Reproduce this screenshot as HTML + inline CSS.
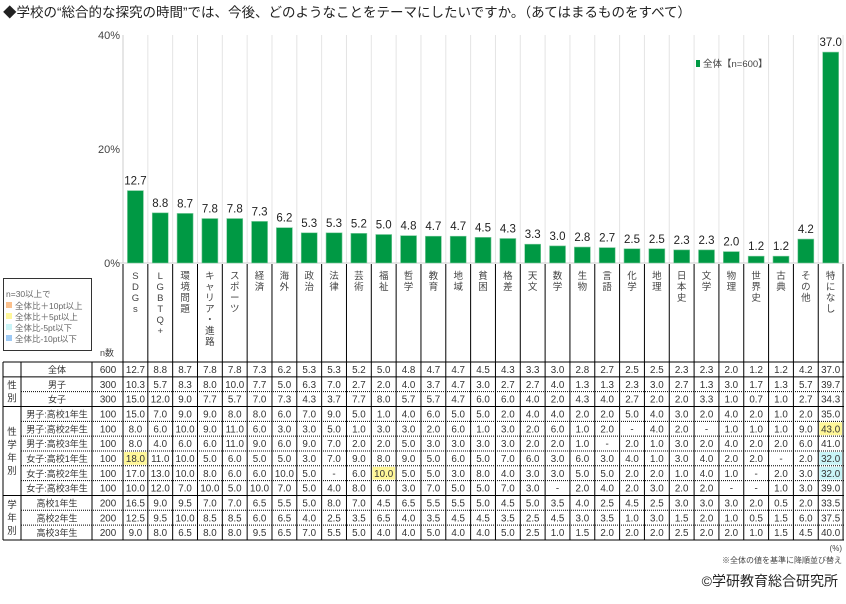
<!DOCTYPE html>
<html><head><meta charset="utf-8"><style>
body{margin:0;background:#fff;width:846px;height:599px;overflow:hidden;font-family:"Liberation Sans","Noto Sans CJK JP",sans-serif;}
svg text{font-family:"Liberation Sans","Noto Sans CJK JP",sans-serif;}
</style></head><body>
<svg id="s" width="846" height="599" xmlns="http://www.w3.org/2000/svg"></svg>
<script>
const s=document.getElementById('s');
let h='';
const cats=["SDGs","LGBTQ+","環境問題","キャリア・進路","スポーツ","経済","海外","政治","法律","芸術","福祉","哲学","教育","地域","貧困","格差","天文","数学","生物","言語","化学","地理","日本史","文学","物理","世界史","古典","その他","特になし"];
const rows=[
["全体","600","12.7 8.8 8.7 7.8 7.8 7.3 6.2 5.3 5.3 5.2 5.0 4.8 4.7 4.7 4.5 4.3 3.3 3.0 2.8 2.7 2.5 2.5 2.3 2.3 2.0 1.2 1.2 4.2 37.0"],
["男子","300","10.3 5.7 8.3 8.0 10.0 7.7 5.0 6.3 7.0 2.7 2.0 4.0 3.7 4.7 3.0 2.7 2.7 4.0 1.3 1.3 2.3 3.0 2.7 1.3 3.0 1.7 1.3 5.7 39.7"],
["女子","300","15.0 12.0 9.0 7.7 5.7 7.0 7.3 4.3 3.7 7.7 8.0 5.7 5.7 4.7 6.0 6.0 4.0 2.0 4.3 4.0 2.7 2.0 2.0 3.3 1.0 0.7 1.0 2.7 34.3"],
["男子:高校1年生","100","15.0 7.0 9.0 9.0 8.0 8.0 6.0 7.0 9.0 5.0 1.0 4.0 6.0 5.0 5.0 2.0 4.0 4.0 2.0 2.0 5.0 4.0 3.0 2.0 4.0 2.0 1.0 2.0 35.0"],
["男子:高校2年生","100","8.0 6.0 10.0 9.0 11.0 6.0 3.0 3.0 5.0 1.0 3.0 3.0 2.0 6.0 1.0 3.0 2.0 6.0 1.0 2.0 - 4.0 2.0 - 1.0 1.0 1.0 9.0 43.0"],
["男子:高校3年生","100","8.0 4.0 6.0 6.0 11.0 9.0 6.0 9.0 7.0 2.0 2.0 5.0 3.0 3.0 3.0 3.0 2.0 2.0 1.0 - 2.0 1.0 3.0 2.0 4.0 2.0 2.0 6.0 41.0"],
["女子:高校1年生","100","18.0 11.0 10.0 5.0 6.0 5.0 5.0 3.0 7.0 9.0 8.0 9.0 5.0 6.0 5.0 7.0 6.0 3.0 6.0 3.0 4.0 1.0 3.0 4.0 2.0 2.0 - 2.0 32.0"],
["女子:高校2年生","100","17.0 13.0 10.0 8.0 6.0 6.0 10.0 5.0 - 6.0 10.0 5.0 5.0 3.0 8.0 4.0 3.0 3.0 5.0 5.0 2.0 2.0 1.0 4.0 1.0 - 2.0 3.0 32.0"],
["女子:高校3年生","100","10.0 12.0 7.0 10.0 5.0 10.0 7.0 5.0 4.0 8.0 6.0 3.0 7.0 5.0 5.0 7.0 3.0 - 2.0 4.0 2.0 3.0 2.0 2.0 - - 1.0 3.0 39.0"],
["高校1年生","200","16.5 9.0 9.5 7.0 7.0 6.5 5.5 5.0 8.0 7.0 4.5 6.5 5.5 5.5 5.0 4.5 5.0 3.5 4.0 2.5 4.5 2.5 3.0 3.0 3.0 2.0 0.5 2.0 33.5"],
["高校2年生","200","12.5 9.5 10.0 8.5 8.5 6.0 6.5 4.0 2.5 3.5 6.5 4.0 3.5 4.5 4.5 3.5 2.5 4.5 3.0 3.5 1.0 3.0 1.5 2.0 1.0 0.5 1.5 6.0 37.5"],
["高校3年生","200","9.0 8.0 6.5 8.0 8.0 9.5 6.5 7.0 5.5 5.0 4.0 4.0 5.0 4.0 4.0 5.0 2.5 1.0 1.5 2.0 2.0 2.0 2.5 2.0 2.0 1.0 1.5 4.5 40.0"]];
const X0=123,CW=24.83,Y0=263,K=5.7,RT=362,RH=14.83;
const cx=i=>X0+CW*i;
h+=`<text x="3" y="17" font-size="13.5" fill="#222">◆学校の“総合的な探究の時間”では、今後、どのようなことをテーマにしたいですか。（あてはまるものをすべて）</text>`;
for(let i=0;i<=29;i++)h+=`<line x1="${cx(i)}" y1="35" x2="${cx(i)}" y2="263" stroke="#e4e4e4" stroke-width="1"/>`;
h+=`<line x1="123" y1="35" x2="123" y2="263" stroke="#ccc"/><line x1="118" y1="263" x2="844" y2="263" stroke="#ccc"/>`;
[["40%",35],["20%",149],["0%",263]].forEach(([t,y])=>h+=`<text x="120" y="${y+4}" font-size="11" fill="#444" text-anchor="end">${t}</text>`);
h+=`<rect x="696" y="60" width="4" height="7" fill="#009944"/><text x="703" y="67" font-size="9.5" fill="#444">全体【n=600】</text>`;
const tot=rows[0][2].split(' ').map(Number);
tot.forEach((v,i)=>{const x=cx(i)+CW/2-8,hh=v*K;
h+=`<rect x="${x}" y="${Y0-hh}" width="16" height="${hh}" fill="#009944" stroke="#7fcc9f" stroke-width="0.6"/>`;
h+=`<text x="${cx(i)+CW/2}" y="${Y0-hh-6}" font-size="11.5" fill="#222" text-anchor="middle">${v.toFixed(1)}</text>`;});
for(let i=0;i<=29;i++)h+=`<line x1="${cx(i)}" y1="264" x2="${cx(i)}" y2="${RT}" stroke="#000"/>`;
cats.forEach((c,i)=>{[...c].forEach((ch,j)=>{h+=`<text x="${cx(i)+CW/2}" y="${279+j*11}" font-size="9.5" fill="#444" text-anchor="middle">${ch}</text>`;});});
h+=`<text x="100" y="356" font-size="9" fill="#444">n数</text>`;
h+=`<rect x="3.5" y="278.5" width="88" height="72" fill="#fff" stroke="#333"/>`;
h+=`<text x="6" y="297" font-size="8.5" fill="#666">n=30以上で</text>`;
[["#fbc08c","全体比＋10pt以上"],["#fff799","全体比＋5pt以上"],["#c9f4f7","全体比-5pt以下"],["#9dc9f5","全体比-10pt以下"]].forEach(([c,t],k)=>{const y=302+k*11;h+=`<rect x="6" y="${y}" width="6" height="6" fill="${c}"/><text x="15" y="${y+7}" font-size="8.5" fill="#666">${t}</text>`;});
const hl={"6,0":"#fff799","7,10":"#fff799","4,28":"#fff799","6,28":"#c9f4f7","7,28":"#c9f4f7"};
rows.forEach((r,ri)=>{const y=RT+ri*RH;
r[2].split(' ').forEach((v,i)=>{const k=ri+","+i;if(hl[k])h+=`<rect x="${cx(i)+1}" y="${y+1}" width="${CW-2}" height="${RH-2}" fill="${hl[k]}"/>`;
h+=`<text x="${cx(i)+CW/2}" y="${y+11}" font-size="9.8" fill="#333" text-anchor="middle">${v}</text>`;});
h+=`<text x="108" y="${y+11}" font-size="9.8" fill="#333" text-anchor="middle">${r[1]}</text>`;
h+=`<text x="57" y="${y+11}" font-size="9" fill="#333" text-anchor="middle">${r[0]}</text>`;});
const solid=[0,1,3,9,12];
for(let ri=0;ri<=12;ri++){const y=RT+ri*RH;
if(solid.includes(ri))h+=`<line x1="3" y1="${y}" x2="844" y2="${y}" stroke="#000"/>`;
else h+=`<line x1="21" y1="${y}" x2="844" y2="${y}" stroke="#000" stroke-dasharray="1,1"/>`;}
[3,21,92].forEach(x=>h+=`<line x1="${x}" y1="${RT}" x2="${x}" y2="${RT+12*RH}" stroke="#000"/>`);
for(let i=0;i<=29;i++)h+=`<line x1="${cx(i)}" y1="${RT}" x2="${cx(i)}" y2="${RT+12*RH}" stroke="#000"/>`;
[["性別",1,2],["性学年別",3,6],["学年別",9,3]].forEach(([t,st,n])=>{const mid=RT+(st+n/2)*RH;const L=[...t];L.forEach((ch,j)=>h+=`<text x="12" y="${mid-(L.length*13)/2+j*13+10}" font-size="9.5" fill="#333" text-anchor="middle">${ch}</text>`);});
h+=`<text x="842" y="551" font-size="8" fill="#444" text-anchor="end">(%)</text>`;
h+=`<text x="842" y="563" font-size="8" fill="#444" text-anchor="end">※全体の値を基準に降順並び替え</text>`;
h+=`<text x="838" y="586" font-size="14" fill="#222" text-anchor="end">©学研教育総合研究所</text>`;
s.innerHTML=h;
</script>
</body></html>
